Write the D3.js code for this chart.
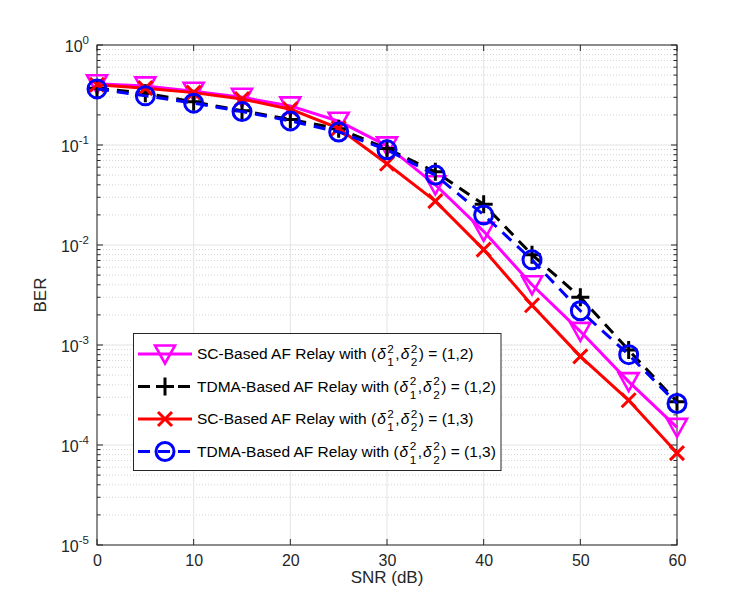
<!DOCTYPE html>
<html><head><meta charset="utf-8">
<script src="https://cdn.jsdelivr.net/npm/d3@7"></script>
<style>
html,body{margin:0;padding:0;background:#fff;}
svg{display:block;font-family:"Liberation Sans",Arial,Helvetica,sans-serif;}
</style></head>
<body>
<svg id="chart" width="747" height="610"></svg>
<script>
const snr = [0,5,10,15,20,25,30,35,40,45,50,55,60];
const scRelay12   = [0.41,0.39,0.345,0.30,0.246,0.173,0.098,0.040,0.0137,0.0040,0.00137,0.00043,0.00015];
const tdmaRelay12 = [0.37,0.33,0.27,0.22,0.18,0.145,0.092,0.054,0.0255,0.008,0.003,0.00089,0.00027];
const scRelay13   = [0.40,0.37,0.334,0.288,0.228,0.147,0.065,0.0275,0.009,0.0025,0.00077,0.00028,0.000083];
const tdmaRelay13 = [0.364,0.31,0.262,0.216,0.174,0.135,0.0895,0.050,0.020,0.0071,0.0022,0.0008,0.00026];
const xTicks = [0,10,20,30,40,50,60];
const yExponents = [0,-1,-2,-3,-4,-5];
const seriesNames = ["SC-Based AF Relay with", "TDMA-Based AF Relay with", "SC-Based AF Relay with", "TDMA-Based AF Relay with"];
const seriesParams = ["(1,2)", "(1,2)", "(1,3)", "(1,3)"];
const xLabel = "SNR (dB)";
const yLabel = "BER";

const series = [
  {name: seriesNames[0], param: seriesParams[0], values: scRelay12, color: "#ff00ff", dash: null, marker: "tri"},
  {name: seriesNames[1], param: seriesParams[1], values: tdmaRelay12, color: "#000000", dash: "12,8", marker: "plus"},
  {name: seriesNames[2], param: seriesParams[2], values: scRelay13, color: "#ff0000", dash: null, marker: "x"},
  {name: seriesNames[3], param: seriesParams[3], values: tdmaRelay13, color: "#0000ff", dash: "12,8", marker: "circle"}
];

const L = 97, R = 677, T = 45, B = 545;
const svg = d3.select("#chart");
const x = d3.scaleLinear().domain([0,60]).range([L,R]);
const y = d3.scaleLog().domain([1e-5,1]).range([B,T]);
const axisColor = "#262626";
const tickFont = 16, labelFont = 17, legendFont = 15.5;

// grid
const grid = svg.append("g");
const minorVals = [];
for (let e = -5; e < 0; e++) for (let m = 2; m <= 9; m++) minorVals.push(m * Math.pow(10, e));
grid.selectAll(".ymin").data(minorVals).enter().append("line")
  .attr("x1", L).attr("x2", R).attr("y1", d => y(d)).attr("y2", d => y(d))
  .attr("stroke", "#c8c8c8").attr("stroke-width", 0.8).attr("stroke-dasharray", "1,2");
grid.selectAll(".ymaj").data(yExponents.map(e => Math.pow(10, e))).enter().append("line")
  .attr("x1", L).attr("x2", R).attr("y1", d => y(d)).attr("y2", d => y(d))
  .attr("stroke", "#e3e3e3").attr("stroke-width", 1);
grid.selectAll(".xmaj").data(xTicks).enter().append("line")
  .attr("y1", T).attr("y2", B).attr("x1", d => x(d)).attr("x2", d => x(d))
  .attr("stroke", "#e3e3e3").attr("stroke-width", 1);

// axes via d3 axis
const bottomAxis = d3.axisBottom(x).tickValues(xTicks).tickSize(0).tickPadding(10).tickFormat(d3.format("d"));
const gx = svg.append("g").attr("transform", `translate(0,${B})`).call(bottomAxis);
gx.select(".domain").remove();
gx.selectAll("text").attr("font-size", tickFont).attr("fill", axisColor).attr("font-family", "Liberation Sans, Arial, sans-serif");

const leftAxis = d3.axisLeft(y).tickValues(yExponents.map(e => Math.pow(10, e))).tickSize(0).tickPadding(8).tickFormat("");
const gy = svg.append("g").attr("transform", `translate(${L},0)`).call(leftAxis);
gy.select(".domain").remove();
gy.selectAll(".tick").each(function(d) {
  const e = Math.round(Math.log10(d));
  const t = d3.select(this).append("text")
    .attr("x", -8).attr("y", 6).attr("text-anchor", "end")
    .attr("fill", axisColor).attr("font-size", tickFont).attr("font-family", "Liberation Sans, Arial, sans-serif");
  t.append("tspan").text("10");
  t.append("tspan").attr("font-size", tickFont * 0.72).attr("dy", -8).text(String(e));
});

// tick marks (inward) and box
const ticks = svg.append("g").attr("stroke", axisColor).attr("stroke-width", 1);
xTicks.forEach(v => {
  ticks.append("line").attr("x1", x(v)).attr("x2", x(v)).attr("y1", B).attr("y2", B - 6);
  ticks.append("line").attr("x1", x(v)).attr("x2", x(v)).attr("y1", T).attr("y2", T + 6);
});
yExponents.forEach(e => {
  const v = Math.pow(10, e);
  ticks.append("line").attr("x1", L).attr("x2", L + 6).attr("y1", y(v)).attr("y2", y(v));
  ticks.append("line").attr("x1", R).attr("x2", R - 6).attr("y1", y(v)).attr("y2", y(v));
});
minorVals.forEach(v => {
  ticks.append("line").attr("x1", L).attr("x2", L + 3.5).attr("y1", y(v)).attr("y2", y(v));
  ticks.append("line").attr("x1", R).attr("x2", R - 3.5).attr("y1", y(v)).attr("y2", y(v));
});
svg.append("rect").attr("x", L).attr("y", T).attr("width", R - L).attr("height", B - T)
  .attr("fill", "none").attr("stroke", axisColor).attr("stroke-width", 1);

// labels
svg.append("text").attr("x", (L + R) / 2).attr("y", 583).attr("text-anchor", "middle")
  .attr("font-size", labelFont).attr("fill", axisColor).text(xLabel);
svg.append("text").attr("transform", `translate(46,${(T + B) / 2}) rotate(-90)`).attr("text-anchor", "middle")
  .attr("font-size", labelFont).attr("fill", axisColor).text(yLabel);

// markers
function drawMarker(g, type, cx, cy, color) {
  if (type === "tri") {
    const s = 10;
    g.append("path").attr("d", `M${cx - s},${cy - s * 0.85}L${cx + s},${cy - s * 0.85}L${cx},${cy + s * 0.95}Z`)
      .attr("fill", "none").attr("stroke", color).attr("stroke-width", 2.6).attr("stroke-linejoin", "miter");
  } else if (type === "plus") {
    const s = 9;
    g.append("path").attr("d", `M${cx - s},${cy}L${cx + s},${cy}M${cx},${cy - s}L${cx},${cy + s}`)
      .attr("stroke", color).attr("stroke-width", 3);
  } else if (type === "x") {
    const s = 7;
    g.append("path").attr("d", `M${cx - s},${cy - s}L${cx + s},${cy + s}M${cx - s},${cy + s}L${cx + s},${cy - s}`)
      .attr("stroke", color).attr("stroke-width", 3);
  } else if (type === "circle") {
    g.append("circle").attr("cx", cx).attr("cy", cy).attr("r", 9)
      .attr("fill", "none").attr("stroke", color).attr("stroke-width", 3);
  }
}

const line = d3.line().x(d => x(d[0])).y(d => y(d[1]));
const plot = svg.append("g");
series.forEach(s => {
  const g = plot.append("g");
  const pts = snr.map((v, i) => [v, s.values[i]]);
  g.append("path").datum(pts).attr("d", line).attr("fill", "none")
    .attr("stroke", s.color).attr("stroke-width", 3)
    .attr("stroke-dasharray", s.dash).attr("stroke-linejoin", "round");
  pts.forEach(p => drawMarker(g, s.marker, x(p[0]), y(p[1]), s.color));
});

// legend
const lg = svg.append("g");
lg.append("rect").attr("x", 133.5).attr("y", 333.5).attr("width", 367.5).attr("height", 137)
  .attr("fill", "#fff").attr("stroke", axisColor).attr("stroke-width", 1);
const rowY = [354, 386.5, 419, 451.5];
series.forEach((s, i) => {
  const ry = rowY[i];
  lg.append("line").attr("x1", 138).attr("x2", 192).attr("y1", ry).attr("y2", ry)
    .attr("stroke", s.color).attr("stroke-width", 3).attr("stroke-dasharray", s.dash);
  drawMarker(lg, s.marker, 165, ry, s.color);
  const t = lg.append("text").attr("x", 197).attr("y", ry + 5)
    .attr("font-size", legendFont).attr("fill", "#000");
  const sub = legendFont * 0.76, dw = sub * 0.556;
  t.append("tspan").text(s.name + " (");
  t.append("tspan").attr("font-style", "italic").attr("dx", 1).text("δ");
  t.append("tspan").attr("font-size", sub).attr("dx", 1.5).attr("dy", -6.5).text("2");
  t.append("tspan").attr("font-size", sub).attr("dx", -dw).attr("dy", 13.5).text("1");
  t.append("tspan").attr("dx", 1.5).attr("dy", -7).text(",");
  t.append("tspan").attr("font-style", "italic").attr("dx", 1).text("δ");
  t.append("tspan").attr("font-size", sub).attr("dx", 1.5).attr("dy", -6.5).text("2");
  t.append("tspan").attr("font-size", sub).attr("dx", -dw).attr("dy", 13.5).text("2");
  t.append("tspan").attr("dx", 1.5).attr("dy", -7).text(") = " + s.param);
});
</script>
</body></html>
